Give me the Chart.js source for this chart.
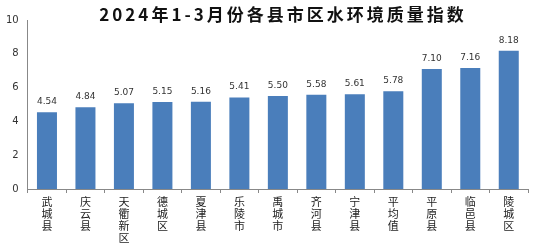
<!DOCTYPE html>
<html>
<head>
<meta charset="utf-8">
<script src="https://cdn.jsdelivr.net/npm/chart.js@4"></script>
<style>
  body { margin: 0; background: #fff; }
  #box { width: 535px; height: 249px; }
</style>
</head>
<body>
<div id="box"><canvas id="myChart" width="535" height="249"></canvas></div>
<script>
const chartTitle = "2024年1-3月份各县市区水环境质量指数";
const counties = ["武城县", "庆云县", "天衢新区", "德城区", "夏津县", "乐陵市", "禹城市", "齐河县", "宁津县", "平均值", "平原县", "临邑县", "陵城区"];
const scores = [4.54, 4.84, 5.07, 5.15, 5.16, 5.41, 5.50, 5.58, 5.61, 5.78, 7.10, 7.16, 8.18];
const yTicks = [0, 2, 4, 6, 8, 10];

// labels are written top to bottom, one character per line
const verticalLabels = counties.map(c => c.split(''));

const valueLabels = {
    id: 'valueLabels',
    afterDatasetsDraw(chart) {
        const ctx = chart.ctx;
        const meta = chart.getDatasetMeta(0);
        ctx.save();
        ctx.font = '9px "DejaVu Sans", sans-serif';
        ctx.fillStyle = '#333';
        ctx.textAlign = 'center';
        ctx.textBaseline = 'bottom';
        meta.data.forEach((bar, i) => {
            ctx.fillText(scores[i].toFixed(2), bar.x, bar.y - 6);
        });
        ctx.restore();
    }
};

const titleDraw = {
    id: 'titleDraw',
    afterDraw(chart) {
        const ctx = chart.ctx;
        ctx.save();
        ctx.font = 'bold 17px "Noto Sans CJK SC", sans-serif';
        ctx.letterSpacing = '3px';
        ctx.fillStyle = '#111';
        ctx.textAlign = 'center';
        ctx.textBaseline = 'middle';
        ctx.fillText(chartTitle, 283, 15);
        ctx.restore();
    }
};

const ctx = document.getElementById('myChart');
const myChart = new Chart(ctx, {
    type: 'bar',
    data: {
        labels: verticalLabels,
        datasets: [{
            data: scores,
            backgroundColor: '#4a7ebb',
            barPercentage: 0.52,
            categoryPercentage: 1
        }]
    },
    options: {
        responsive: false,
        animation: false,
        layout: { padding: { top: 20, right: 7, left: 2, bottom: 0 } },
        scales: {
            y: {
                min: 0,
                max: 10,
                afterBuildTicks: axis => { axis.ticks = yTicks.map(v => ({ value: v })); },
                ticks: { color: '#333', font: { size: 10, family: '"DejaVu Sans", sans-serif' }, padding: 4 },
                grid: { display: false, drawTicks: true, tickLength: 5, color: '#888' },
                border: { display: true, color: '#888' }
            },
            x: {
                afterFit: scale => { scale.height = 60; },
                ticks: {
                    color: '#222',
                    font: { size: 11, family: '"Noto Sans CJK SC", sans-serif', lineHeight: '12px' },
                    padding: 3,
                    maxRotation: 0,
                    autoSkip: false
                },
                grid: { display: true, offset: true, drawOnChartArea: false, tickLength: 4, color: '#888' },
                border: { display: true, color: '#888' }
            }
        },
        plugins: {
            legend: { display: false },
            tooltip: { enabled: false }
        }
    },
    plugins: [valueLabels, titleDraw]
});
</script>
</body>
</html>
